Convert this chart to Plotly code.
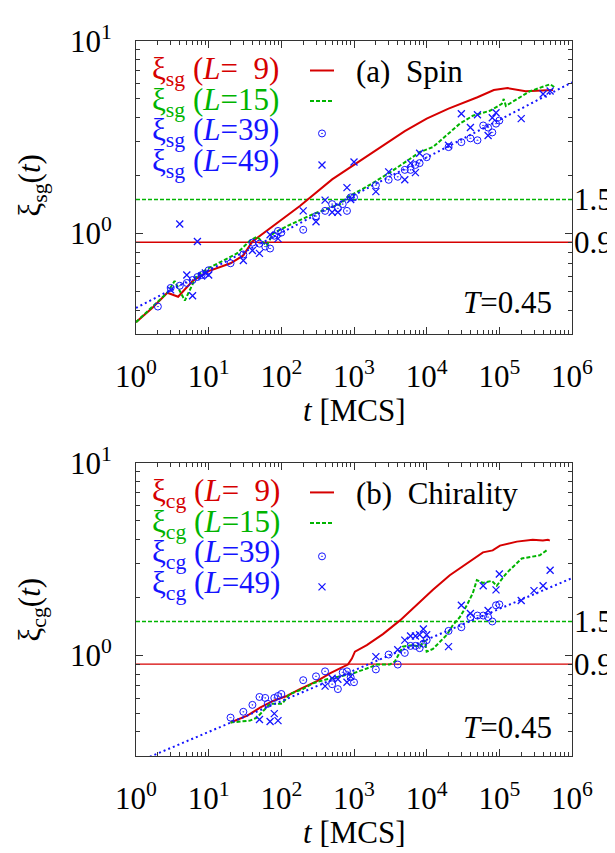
import numpy as np
import plotly.graph_objects as go

# ---------------- data ----------------
# (a) Spin
spin_L9_t = [1, 1.7, 2.7, 3.8, 6, 10, 20, 30, 40, 63, 180, 500, 2000, 5000, 10000,
             20000, 50000, 84000, 130000, 230000, 550000]
spin_L9_xi = [0.346, 0.412, 0.492, 0.469, 0.566, 0.637, 0.70, 0.769, 0.908, 1.03, 1.39,
              1.91, 2.71, 3.4, 3.95, 4.45, 5.1, 5.56, 5.69, 5.48, 5.56]

spin_L15_t = [1, 2.7, 3.4, 4.7, 6.9, 10, 24.5, 37, 46, 63, 77, 119, 272, 640, 800, 1500,
              3100, 8100, 12200, 28600, 43200, 74000, 108000, 115000, 123000, 263000,
              500000, 600000]
spin_L15_xi = [0.346, 0.492, 0.566, 0.448, 0.608, 0.66, 0.787, 0.918, 0.962, 0.865, 1.0,
               1.09, 1.26, 1.42, 1.54, 1.75, 2.07, 2.65, 2.81, 3.72, 4.09, 4.34, 4.71, 5.0,
               4.6, 5.48, 5.96, 5.69]

spin_L39_t = [2, 3, 4, 5, 6, 7, 8, 10, 20, 30, 40, 50, 60, 70, 80, 90, 100, 200, 300, 400,
              500, 600, 700, 800, 900, 1000, 2000, 3000, 4000, 5000, 6000, 7000, 8000,
              10000, 20000, 30000, 40000, 50000, 60000, 70000, 80000, 90000, 100000]
spin_L39_xi = [0.417, 0.521, 0.535, 0.553, 0.573, 0.594, 0.608, 0.644, 0.70, 0.778, 0.896,
               0.885, 0.855, 0.835, 0.973, 1.03, 1.01, 1.045, 1.23, 1.31, 1.42, 1.35, 1.42,
               1.31, 1.54, 1.54, 1.78, 1.90, 1.97, 2.14, 2.14, 2.27, 2.32, 2.49, 2.81, 2.98,
               3.12, 3.05, 3.64, 3.55, 3.35, 3.72, 3.86]

spin_L49_t = [3, 4, 5, 6, 7, 8, 9, 10, 30, 40, 50, 70, 90, 200, 300, 400, 500, 600, 800,
              900, 1000, 2000, 3000, 5000, 6000, 7000, 8000, 20000, 30000, 40000, 50000,
              70000, 80000, 90000, 200000, 400000, 500000]
spin_L49_xi = [0.509, 1.12, 0.608, 0.475, 0.908, 0.601, 0.623, 0.608, 0.724, 0.816, 0.788,
               0.985, 0.94, 1.31, 1.15, 1.49, 1.29, 1.29, 1.73, 1.50, 2.35, 1.65, 2.09,
               1.90, 2.32, 2.07, 2.61, 2.87, 4.19, 3.55, 4.14, 3.23, 3.99, 4.24, 3.95, 5.3,
               5.5]

spin_fit_t = [1, 1e6]
spin_fit_xi = [0.41, 6.1]

# (b) Chirality
chir_L9_t = [20, 34, 51, 77, 119, 180, 309, 466, 640, 824, 935, 1030, 1500, 2500, 4300,
             7300, 12200, 20800, 35700, 59500, 81000, 102000, 174000, 288000, 398000,
             466000, 495000]
chir_L9_xi = [0.448, 0.486, 0.535, 0.580, 0.615, 0.668, 0.734, 0.806, 0.855, 0.896, 0.962,
              1.045, 1.13, 1.29, 1.52, 1.84, 2.19, 2.61, 3.01, 3.43, 3.51, 3.72, 3.90,
              3.99, 3.95, 3.99, 3.95]

chir_L15_t = [20, 37, 46, 70, 102, 131, 198, 272, 424, 640, 966, 1500, 2070, 3100, 3650,
              4700, 6300, 8100, 9400, 10000, 12200, 19000, 23000, 28600, 35700, 43200,
              49000, 59500, 79000, 92000, 126000, 204000, 288000, 360000, 466000]
chir_L15_xi = [0.448, 0.458, 0.475, 0.560, 0.56, 0.63, 0.668, 0.717, 0.751, 0.778, 0.806,
               0.855, 0.896, 0.896, 0.929, 1.11, 1.13, 1.11, 1.20, 1.045, 1.08, 1.28, 1.44,
               1.58, 1.82, 2.11, 2.46, 2.38, 2.44, 2.30, 2.68, 3.19, 3.27, 3.31, 3.55]

chir_L39_t = [20, 30, 40, 50, 60, 65, 80, 90, 100, 200, 300, 400, 500, 600, 700, 800, 900,
              1000, 2000, 3000, 4000, 5000, 6000, 7000, 8000, 9000, 10000, 20000, 30000,
              40000, 50000, 60000, 70000, 80000, 90000, 100000]
chir_L39_xi = [0.475, 0.509, 0.553, 0.608, 0.601, 0.56, 0.601, 0.615, 0.63, 0.743, 0.778,
               0.826, 0.708, 0.668, 0.816, 0.826, 0.769, 0.725, 0.845, 1.01, 0.896, 1.03,
               1.12, 1.12, 1.09, 1.15, 1.20, 1.34, 1.40, 1.58, 1.61, 1.61, 1.58, 1.50, 1.82,
               1.84]

chir_L49_t = [50, 70, 80, 90, 400, 500, 600, 800, 900, 2000, 4000, 5000, 6000, 7000, 8000,
              9000, 10000, 20000, 30000, 40000, 60000, 70000, 90000, 100000, 200000,
              300000, 400000, 500000]
chir_L49_xi = [0.464, 0.453, 0.498, 0.458, 0.692, 0.760, 0.751, 0.725, 0.778, 0.985, 1.07,
               1.20, 1.26, 1.26, 1.28, 1.37, 1.28, 1.11, 1.82, 1.65, 2.30, 1.71, 2.19, 2.65,
               1.93, 2.17, 2.30, 2.77]

chir_fit_t = [1, 1e6]
chir_fit_xi = [0.277, 2.52]

ref_levels = [0.9, 1.5]
ref_labels = ["0.9", "1.5"]
t_span = [1, 1e6]

x_tickvals = [1, 10, 100, 1e3, 1e4, 1e5, 1e6]
x_ticktext = ["10<sup>%d</sup>" % k for k in range(7)]
y_tickvals = [1, 10]
y_ticktext = ["10<sup>0</sup>", "10<sup>1</sup>"]

# ---------------- style ----------------
FONT = "Liberation Serif, Times New Roman, Times, Tinos, DejaVu Serif, serif"
RED = "#d60000"
GREEN = "#00b400"
BLUE = "#1414ff"
AXC = "#333333"
FS = 31

fig = go.Figure()

panels = [
    dict(xa="x", ya="y", L9=(spin_L9_t, spin_L9_xi), L15=(spin_L15_t, spin_L15_xi),
         L39=(spin_L39_t, spin_L39_xi), L49=(spin_L49_t, spin_L49_xi),
         fit=(spin_fit_t, spin_fit_xi)),
    dict(xa="x2", ya="y2", L9=(chir_L9_t, chir_L9_xi), L15=(chir_L15_t, chir_L15_xi),
         L39=(chir_L39_t, chir_L39_xi), L49=(chir_L49_t, chir_L49_xi),
         fit=(chir_fit_t, chir_fit_xi)),
]

for p in panels:
    xa, ya = p["xa"], p["ya"]
    fig.add_trace(go.Scatter(x=t_span, y=[ref_levels[0]] * 2, mode="lines", xaxis=xa, yaxis=ya,
                             line=dict(color=RED, width=1.3), showlegend=False, hoverinfo="skip"))
    fig.add_trace(go.Scatter(x=t_span, y=[ref_levels[1]] * 2, mode="lines", xaxis=xa, yaxis=ya,
                             line=dict(color=GREEN, width=1.5, dash="4px,2px"),
                             showlegend=False, hoverinfo="skip"))
    fig.add_trace(go.Scatter(x=p["L9"][0], y=p["L9"][1], mode="lines", xaxis=xa, yaxis=ya,
                             line=dict(color=RED, width=2), showlegend=False))
    fig.add_trace(go.Scatter(x=p["L15"][0], y=p["L15"][1], mode="lines", xaxis=xa, yaxis=ya,
                             line=dict(color=GREEN, width=2, dash="4px,2px"), showlegend=False))
    fig.add_trace(go.Scatter(x=p["L39"][0], y=p["L39"][1], mode="markers", xaxis=xa, yaxis=ya,
                             marker=dict(symbol="circle-open-dot", size=7, color=BLUE,
                                         line=dict(width=1, color=BLUE)), showlegend=False))
    fig.add_trace(go.Scatter(x=p["L49"][0], y=p["L49"][1], mode="markers", xaxis=xa, yaxis=ya,
                             marker=dict(symbol="x-thin-open", size=7, color=BLUE,
                                         line=dict(width=1.3, color=BLUE)), showlegend=False))
    fig.add_trace(go.Scatter(x=p["fit"][0], y=p["fit"][1], mode="lines", xaxis=xa, yaxis=ya,
                             line=dict(color=BLUE, width=2, dash="2px,3px"), showlegend=False))

# ---------------- geometry helpers (page pixel -> paper) ----------------
OFF = 8  # default page body margin
W, H = 615 - OFF, 853 - OFF
ML, MR, MT, MB = 136 - OFF, 43, 29 - OFF, 97
PW, PH = W - ML - MR, H - MT - MB
X0, YB = 136, 853 - MB


def px(xp):
    return (xp - X0) / PW


def py(yp):
    return (YB - yp) / PH


leg_x = px(322)
fig.add_trace(go.Scatter(x=[leg_x, leg_x], y=[py(123), py(553)], mode="markers",
                         xaxis="x3", yaxis="y3",
                         marker=dict(symbol="circle-open-dot", size=7, color=BLUE,
                                     line=dict(width=1, color=BLUE)), showlegend=False))
fig.add_trace(go.Scatter(x=[leg_x, leg_x], y=[py(155), py(584)], mode="markers",
                         xaxis="x3", yaxis="y3",
                         marker=dict(symbol="x-thin-open", size=7, color=BLUE,
                                     line=dict(width=1.3, color=BLUE)), showlegend=False))

minor_x = [m * 10 ** k for k in range(6) for m in range(2, 10)]
minor_y = [m / 10 for m in range(3, 10)] + [float(m) for m in range(2, 10)]

top_dom = [py(327), 1.0]
bot_dom = [0.0, py(458)]


def xaxis_cfg(anchor):
    return dict(type="log", range=[0, 6], domain=[0, 1], anchor=anchor,
                showline=True, linecolor=AXC, linewidth=1, mirror="ticks",
                ticks="inside", ticklen=7, tickwidth=1, tickcolor=AXC,
                tickmode="array", tickvals=x_tickvals, ticktext=x_ticktext,
                tickfont=dict(family=FONT, size=FS, color="black"),
                ticklabelstandoff=15,
                minor=dict(ticks="inside", ticklen=4, tickwidth=1, tickcolor=AXC,
                           tickmode="array", tickvals=minor_x, showgrid=False),
                showgrid=False, zeroline=False)


def yaxis_cfg(anchor, dom):
    return dict(type="log", range=[np.log10(0.3), 1], domain=dom, anchor=anchor,
                showline=True, linecolor=AXC, linewidth=1, mirror="ticks",
                ticks="inside", ticklen=7, tickwidth=1, tickcolor=AXC,
                tickmode="array", tickvals=y_tickvals, ticktext=y_ticktext,
                tickfont=dict(family=FONT, size=FS, color="black"),
                ticklabelstandoff=17,
                minor=dict(ticks="inside", ticklen=4, tickwidth=1, tickcolor=AXC,
                           tickmode="array", tickvals=minor_y, showgrid=False),
                showgrid=False, zeroline=False)


ann = []


def txt(x, y, s, color="black", xanchor="left", yanchor="middle", angle=0, xref="paper",
        yref="paper", xshift=0, size=FS):
    ann.append(dict(x=x, y=y, xref=xref, yref=yref, text=s, showarrow=False,
                    xanchor=xanchor, yanchor=yanchor, textangle=angle, xshift=xshift,
                    font=dict(family=FONT, size=size, color=color)))


sizes = ["L</i>=\u00a0\u00a09", "L</i>=15", "L</i>=39", "L</i>=49"]
colors = [RED, GREEN, BLUE, BLUE]
shapes = []
for sub, rows, title, ya in [("sg", [60, 91, 122, 153], "(a)\u00a0\u00a0Spin", "y"),
                             ("cg", [489, 520, 551, 582], "(b)\u00a0\u00a0Chirality", "y2")]:
    for r, s, c in zip(rows, sizes, colors):
        txt(px(150), py(r), "\u03be<sub>%s</sub> (<i>%s)" % (sub, s), color=c)
    txt(px(354), py(rows[0]), title)
    shapes.append(dict(type="line", xref="paper", yref="paper", x0=px(310), x1=px(334),
                       y0=py(rows[0] - 1), y1=py(rows[0] - 1), line=dict(color=RED, width=2)))
    shapes.append(dict(type="line", xref="paper", yref="paper", x0=px(310), x1=px(334),
                       y0=py(rows[1] - 1), y1=py(rows[1] - 1),
                       line=dict(color=GREEN, width=2, dash="4px,2px")))
    for lv, lb in zip(ref_levels, ref_labels):
        txt(1.0, np.log10(lv), lb, xref=("x domain" if ya == "y" else "x2 domain"), yref=ya,
            xshift=0)

txt(px(554), py(295), "<i>T</i>=0.45", xanchor="right")
txt(px(554), py(727), "<i>T</i>=0.45", xanchor="right")
txt(0.5, py(405), "<i>t</i> [MCS]", xanchor="center")
txt(0.5, py(834), "<i>t</i> [MCS]", xanchor="center")
txt(px(32), py(176), "\u03be<sub>sg</sub>(<i>t</i>)", xanchor="center", angle=-90)
txt(px(32), py(607), "\u03be<sub>cg</sub>(<i>t</i>)", xanchor="center", angle=-90)

fig.update_layout(
    width=W, height=H,
    margin=dict(l=ML, r=MR, t=MT, b=MB, pad=0),
    paper_bgcolor="white", plot_bgcolor="rgba(0,0,0,0)",
    showlegend=False,
    xaxis=xaxis_cfg("y"), yaxis=yaxis_cfg("x", top_dom),
    xaxis2=xaxis_cfg("y2"), yaxis2=yaxis_cfg("x2", bot_dom),
    xaxis3=dict(domain=[0, 1], range=[0, 1], visible=False, anchor="y3", fixedrange=True),
    yaxis3=dict(domain=[0, 1], range=[0, 1], visible=False, anchor="x3", fixedrange=True),
    annotations=ann, shapes=shapes,
    font=dict(family=FONT),
)

fig.write_html("out.html")
